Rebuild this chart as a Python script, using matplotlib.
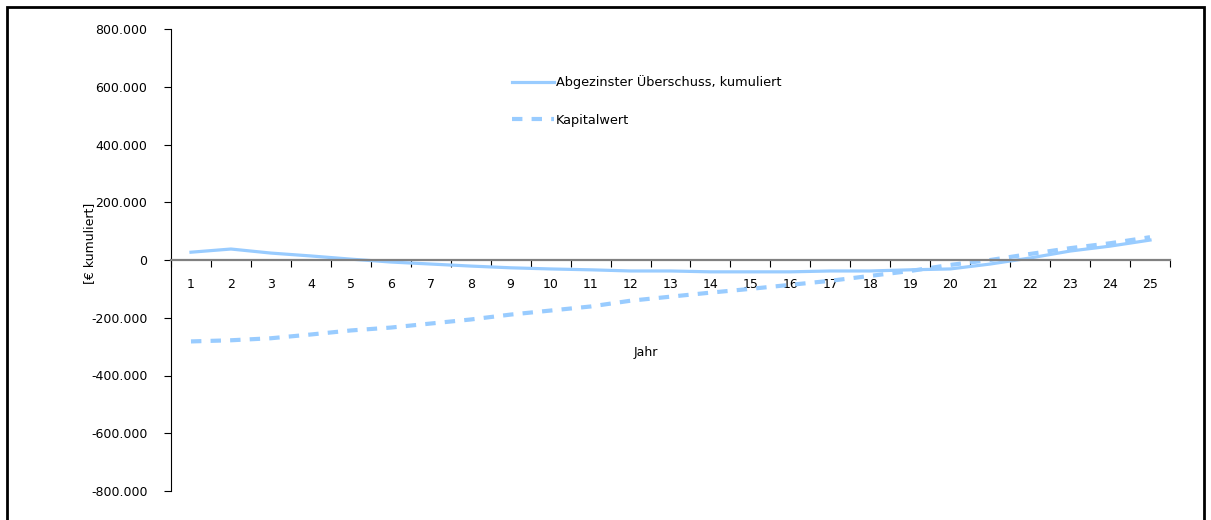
import numpy as np
import matplotlib
matplotlib.use("Agg")
import matplotlib.pyplot as plt
from matplotlib.patches import Rectangle
from matplotlib.ticker import FuncFormatter

plt.rcParams['font.family'] = ['DejaVu Sans']

# Daten
jahre = list(range(1, 26))
ueberschuss_kum = [27000, 38000, 24000, 14000, 3000, -7000, -14000, -21000, -27000, -31000,
                   -34000, -38000, -38000, -41000, -41000, -41000, -38000, -38000, -34000, -31000,
                   -14000, 7000, 31000, 48000, 69000]
kapitalwert = [-282000, -278000, -271000, -258000, -244000, -234000, -220000, -206000, -189000, -175000,
               -161000, -141000, -127000, -113000, -100000, -86000, -72000, -55000, -38000, -17000,
               0, 21000, 41000, 58000, 79000]
y_ticks = [-800000, -600000, -400000, -200000, 0, 200000, 400000, 600000, 800000]

farbe = '#99CCFF'
W, H = 1211, 520

fig = plt.figure(figsize=(W / 100, H / 100), dpi=100)
ax = fig.add_axes([171 / W, 1 - 491 / H, (1170 - 171) / W, (491 - 29) / H])

ax.plot(jahre, ueberschuss_kum, color=farbe, lw=2.3, label='Abgezinster Überschuss, kumuliert')
ax.plot(jahre, kapitalwert, color=farbe, lw=3, dashes=(2.5, 2.2), dash_capstyle='butt',
        label='Kapitalwert')

ax.set_xlim(0.5, 25.5)
ax.set_ylim(-800000, 800000)

# Achsen im Excel-Stil
for s in ['top', 'right']:
    ax.spines[s].set_visible(False)
ax.spines['bottom'].set_position(('data', 0))
ax.spines['bottom'].set_color('#808080')
ax.spines['bottom'].set_linewidth(1.6)
ax.spines['left'].set_color('black')
ax.spines['left'].set_linewidth(0.8)

ax.set_yticks(y_ticks)
ax.yaxis.set_major_formatter(FuncFormatter(lambda v, p: f"{int(v):,}".replace(',', '.')))
ax.tick_params(axis='y', direction='out', length=5, width=0.8, labelsize=9, colors='black', pad=12)

ax.set_xticks(np.arange(0.5, 26, 1))
ax.set_xticklabels([])
ax.set_xticks(jahre, minor=True)
ax.set_xticklabels([str(j) for j in jahre], minor=True)
ax.tick_params(axis='x', which='major', direction='out', length=5, width=0.8, color='black')
ax.tick_params(axis='x', which='minor', length=0, labelsize=9, pad=13)

ax.text(0.475, 0.30, 'Jahr', transform=ax.transAxes, ha='center', va='center', fontsize=9)
fig.text(90 / W, 1 - 243 / H, '[€ kumuliert]', rotation=90, ha='center', va='center', fontsize=9)

ax.legend(loc='upper left', bbox_to_anchor=((507 - 171) / 999, (491 - 70) / 462), frameon=False,
          fontsize=9.3, handlelength=3.2, handletextpad=0.2, labelspacing=1.9, borderaxespad=0)

# Rahmen
fig.patches.append(Rectangle((7 / W, -0.05), (1204 - 7) / W, 1.05 - 7 / H, transform=fig.transFigure,
                             fill=False, edgecolor='black', lw=2))

fig.savefig('out.png', dpi=100)
